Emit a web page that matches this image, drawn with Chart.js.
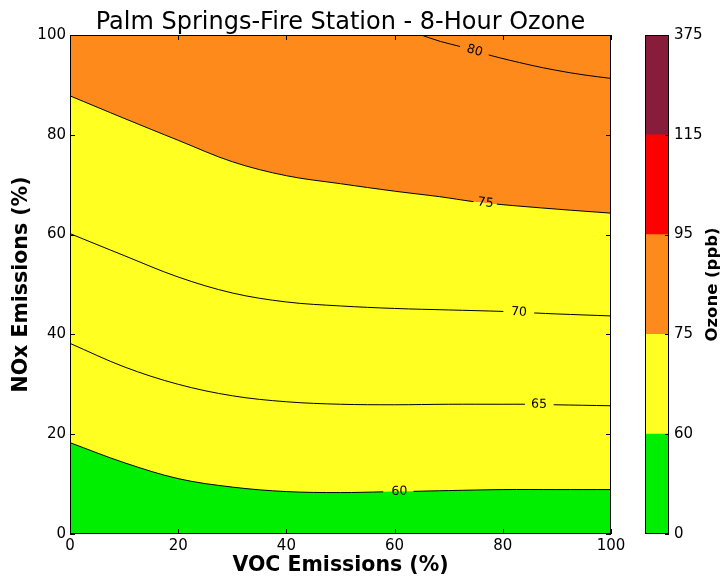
<!DOCTYPE html>
<html lang="en">
<head>
  <meta charset="UTF-8">
  <title>Palm Springs-Fire Station - 8-Hour Ozone</title>
  <script src="https://cdn.jsdelivr.net/npm/chart.js"></script>
  <style>
    body { margin: 0; background: #fff; }
    #wrap { position: relative; width: 722px; height: 577px; }
    #contour { position: absolute; left: 0; top: 0; }
    #colorbar { position: absolute; left: 630px; top: 0; }
  </style>
</head>
<body>
<div id="wrap">
  <canvas id="contour" width="630" height="577"></canvas>
  <canvas id="colorbar" width="92" height="577"></canvas>
</div>

<script>
  // contour levels (ppb) and where each label sits along its line (VOC %)
  var levels = [60, 65, 70, 75, 80];
  var labelX = [60.9, 86.7, 83.0, 76.8, 74.8];

  // contour lines: VOC % (x) -> NOx % (y)
  var c60x = [0, 10, 20, 30, 40, 50, 57.9, 63.5, 70, 80, 90, 100];
  var c60y = [18.3, 14.3, 11.1, 9.4, 8.5, 8.3, 8.45, 8.55, 8.7, 8.9, 8.9, 8.9];
  var c65x = [0, 10, 20, 30, 40, 50, 60, 70, 80, 84.1, 89.4, 100];
  var c65y = [38.2, 33.5, 30.0, 27.7, 26.5, 26.0, 25.9, 26.0, 26.0, 26.0, 25.9, 25.7];
  var c70x = [0, 10, 20, 30, 40, 50, 60, 70, 80.1, 85.8, 90, 100];
  var c70y = [60.2, 55.8, 51.5, 48.3, 46.5, 45.7, 45.2, 44.9, 44.6, 44.3, 44.1, 43.7];
  var c75x = [0, 10, 20, 30, 40, 50, 60, 68.3, 74.6, 78.9, 90, 100];
  var c75y = [87.8, 83.3, 78.9, 74.6, 71.8, 70.2, 68.7, 67.6, 66.6, 66.1, 65.1, 64.3];
  var c80x = [64.9, 68.5, 72.1, 77.4, 85, 90, 95, 100];
  var c80y = [100, 98.7, 97.7, 96.0, 94.0, 92.9, 92.0, 91.3];

  var contourX = [c60x, c65x, c70x, c75x, c80x];
  var contourY = [c60y, c65y, c70y, c75y, c80y];

  // colorbar bounds and colours
  var cbBounds = [0, 60, 75, 95, 115, 375];
  var cbColors = ['#00ee00', '#ffff22', '#ff8a1c', '#ff0000', '#871c3b'];

  Chart.defaults.font.family = '"DejaVu Sans", sans-serif';
  Chart.defaults.color = '#000';

  function points(xs, ys) {
    return xs.map(function(x, i) { return { x: x, y: ys[i] }; });
  }

  // hide the bit of line under the label
  function gapAt(xs, lx) {
    return {
      borderColor: function(ctx) {
        if (xs[ctx.p0DataIndex] < lx && xs[ctx.p1DataIndex] > lx) return 'rgba(0,0,0,0)';
        return undefined;
      }
    };
  }

  // lines first (index 0 is drawn last, so on top)
  var datasets = levels.map(function(lev, i) {
    return {
      label: String(lev),
      data: points(contourX[i], contourY[i]),
      borderColor: '#000',
      borderWidth: 1,
      pointRadius: 0,
      tension: 0.35,
      fill: false,
      segment: gapAt(contourX[i], labelX[i])
    };
  });

  function band(xs, ys, fill, color) {
    return {
      label: 'band',
      data: points(xs, ys),
      borderColor: 'rgba(0,0,0,0)',
      borderWidth: 0,
      pointRadius: 0,
      tension: 0.35,
      fill: fill,
      backgroundColor: color
    };
  }
  datasets.push(band(c60x, c60y, 'start', cbColors[0]));
  datasets.push(band(c75x, c75y, 'start', cbColors[1]));
  datasets.push(band(c75x, c75y, 'end', cbColors[2]));

  var contourLabels = {
    id: 'contourLabels',
    afterDatasetsDraw: function(chart) {
      var ctx = chart.ctx;
      ctx.save();
      ctx.font = '12.5px "DejaVu Sans"';
      ctx.textAlign = 'center';
      ctx.textBaseline = 'middle';
      ctx.fillStyle = '#000';
      levels.forEach(function(lev, i) {
        var xs = contourX[i];
        var pts = chart.getDatasetMeta(i).data;
        for (var k = 0; k < xs.length - 1; k++) {
          if (xs[k] < labelX[i] && xs[k + 1] > labelX[i]) {
            var a = pts[k], b = pts[k + 1];
            var px = chart.scales.x.getPixelForValue(labelX[i]);
            var t = (px - a.x) / (b.x - a.x);
            var py = a.y + t * (b.y - a.y);
            ctx.save();
            ctx.translate(px, py);
            ctx.rotate(Math.atan2(b.y - a.y, b.x - a.x));
            ctx.fillText(String(lev), 0, 0);
            ctx.restore();
          }
        }
      });
      ctx.restore();
    }
  };

  // box round the plot with inward ticks on all sides
  var frame = {
    id: 'frame',
    afterDraw: function(chart) {
      var a = chart.chartArea, ctx = chart.ctx;
      ctx.save();
      ctx.strokeStyle = '#000';
      ctx.lineWidth = 1;
      ctx.beginPath();
      chart.scales.x.ticks.forEach(function(t) {
        var px = Math.round(chart.scales.x.getPixelForValue(t.value)) + 0.5;
        ctx.moveTo(px, a.bottom); ctx.lineTo(px, a.bottom - 5);
        ctx.moveTo(px, a.top); ctx.lineTo(px, a.top + 5);
      });
      chart.scales.y.ticks.forEach(function(t) {
        var py = Math.round(chart.scales.y.getPixelForValue(t.value)) + 0.5;
        ctx.moveTo(a.left, py); ctx.lineTo(a.left + 5, py);
        ctx.moveTo(a.right, py); ctx.lineTo(a.right - 5, py);
      });
      ctx.stroke();
      ctx.strokeRect(a.left + 0.5, a.top + 0.5, a.right - a.left - 1, a.bottom - a.top - 1);
      ctx.restore();
    }
  };

  new Chart(document.getElementById('contour').getContext('2d'), {
    type: 'line',
    data: { datasets: datasets },
    options: {
      responsive: false,
      animation: false,
      layout: { padding: { top: 0, right: 19, bottom: 0, left: 0 } },
      plugins: {
        legend: { display: false },
        tooltip: { enabled: false },
        title: {
          display: true,
          text: 'Palm Springs-Fire Station - 8-Hour Ozone',
          fullSize: false,
          font: { size: 24, weight: 'normal', lineHeight: 1 },
          padding: { top: 11, bottom: 0 }
        }
      },
      scales: {
        x: {
          type: 'linear',
          min: 0,
          max: 100,
          ticks: { stepSize: 20, padding: 3, font: { size: 15 } },
          grid: { display: false, drawTicks: false },
          border: { display: false },
          title: {
            display: true,
            text: 'VOC Emissions (%)',
            font: { size: 20.5, weight: 'bold', lineHeight: 1.15 },
            padding: { top: 0, bottom: 0 }
          },
          afterFit: function(scale) { scale.height = 43; }
        },
        y: {
          min: 0,
          max: 100,
          ticks: { stepSize: 20, padding: 4, font: { size: 15 } },
          grid: { display: false, drawTicks: false },
          border: { display: false },
          title: {
            display: true,
            text: 'NOx Emissions (%)',
            font: { size: 20.5, weight: 'bold', lineHeight: 1.15 },
            padding: { top: 10, bottom: 0 }
          },
          afterFit: function(scale) { scale.width = 70; }
        }
      }
    },
    plugins: [contourLabels, frame]
  });

  // colorbar: five equal stacked blocks
  var cbFrame = {
    id: 'cbFrame',
    afterDraw: function(chart) {
      var a = chart.chartArea, ctx = chart.ctx, y = chart.scales.y;
      ctx.save();
      ctx.strokeStyle = '#000';
      ctx.lineWidth = 1;
      ctx.strokeRect(a.left + 0.5, a.top + 0.5, a.right - a.left - 1, a.bottom - a.top - 1);
      ctx.beginPath();
      y.ticks.forEach(function(t) {
        var py = Math.round(y.getPixelForValue(t.value)) + 0.5;
        ctx.moveTo(a.right, py); ctx.lineTo(a.right - 4, py);
      });
      ctx.stroke();
      ctx.translate(83, (a.top + a.bottom) / 2);
      ctx.rotate(-Math.PI / 2);
      ctx.font = 'bold 16.5px "DejaVu Sans"';
      ctx.textAlign = 'center';
      ctx.textBaseline = 'middle';
      ctx.fillStyle = '#000';
      ctx.fillText('Ozone (ppb)', 0, 0);
      ctx.restore();
    }
  };

  new Chart(document.getElementById('colorbar').getContext('2d'), {
    type: 'bar',
    data: {
      labels: [''],
      datasets: cbColors.map(function(c, i) {
        return {
          label: cbBounds[i] + '-' + cbBounds[i + 1],
          data: [1],
          backgroundColor: c,
          borderWidth: 0,
          barPercentage: 1,
          categoryPercentage: 1
        };
      })
    },
    options: {
      responsive: false,
      animation: false,
      layout: { padding: { top: 35, right: 0, bottom: 43, left: 15 } },
      plugins: { legend: { display: false }, tooltip: { enabled: false } },
      scales: {
        x: { stacked: true, display: false },
        y: {
          stacked: true,
          position: 'right',
          min: 0,
          max: cbColors.length,
          ticks: {
            stepSize: 1,
            padding: 5,
            font: { size: 15 },
            callback: function(v) { return cbBounds[v]; }
          },
          grid: { display: false, drawTicks: false },
          border: { display: false },
          afterFit: function(scale) { scale.width = 53; }
        }
      }
    },
    plugins: [cbFrame]
  });
</script>
</body>
</html>
